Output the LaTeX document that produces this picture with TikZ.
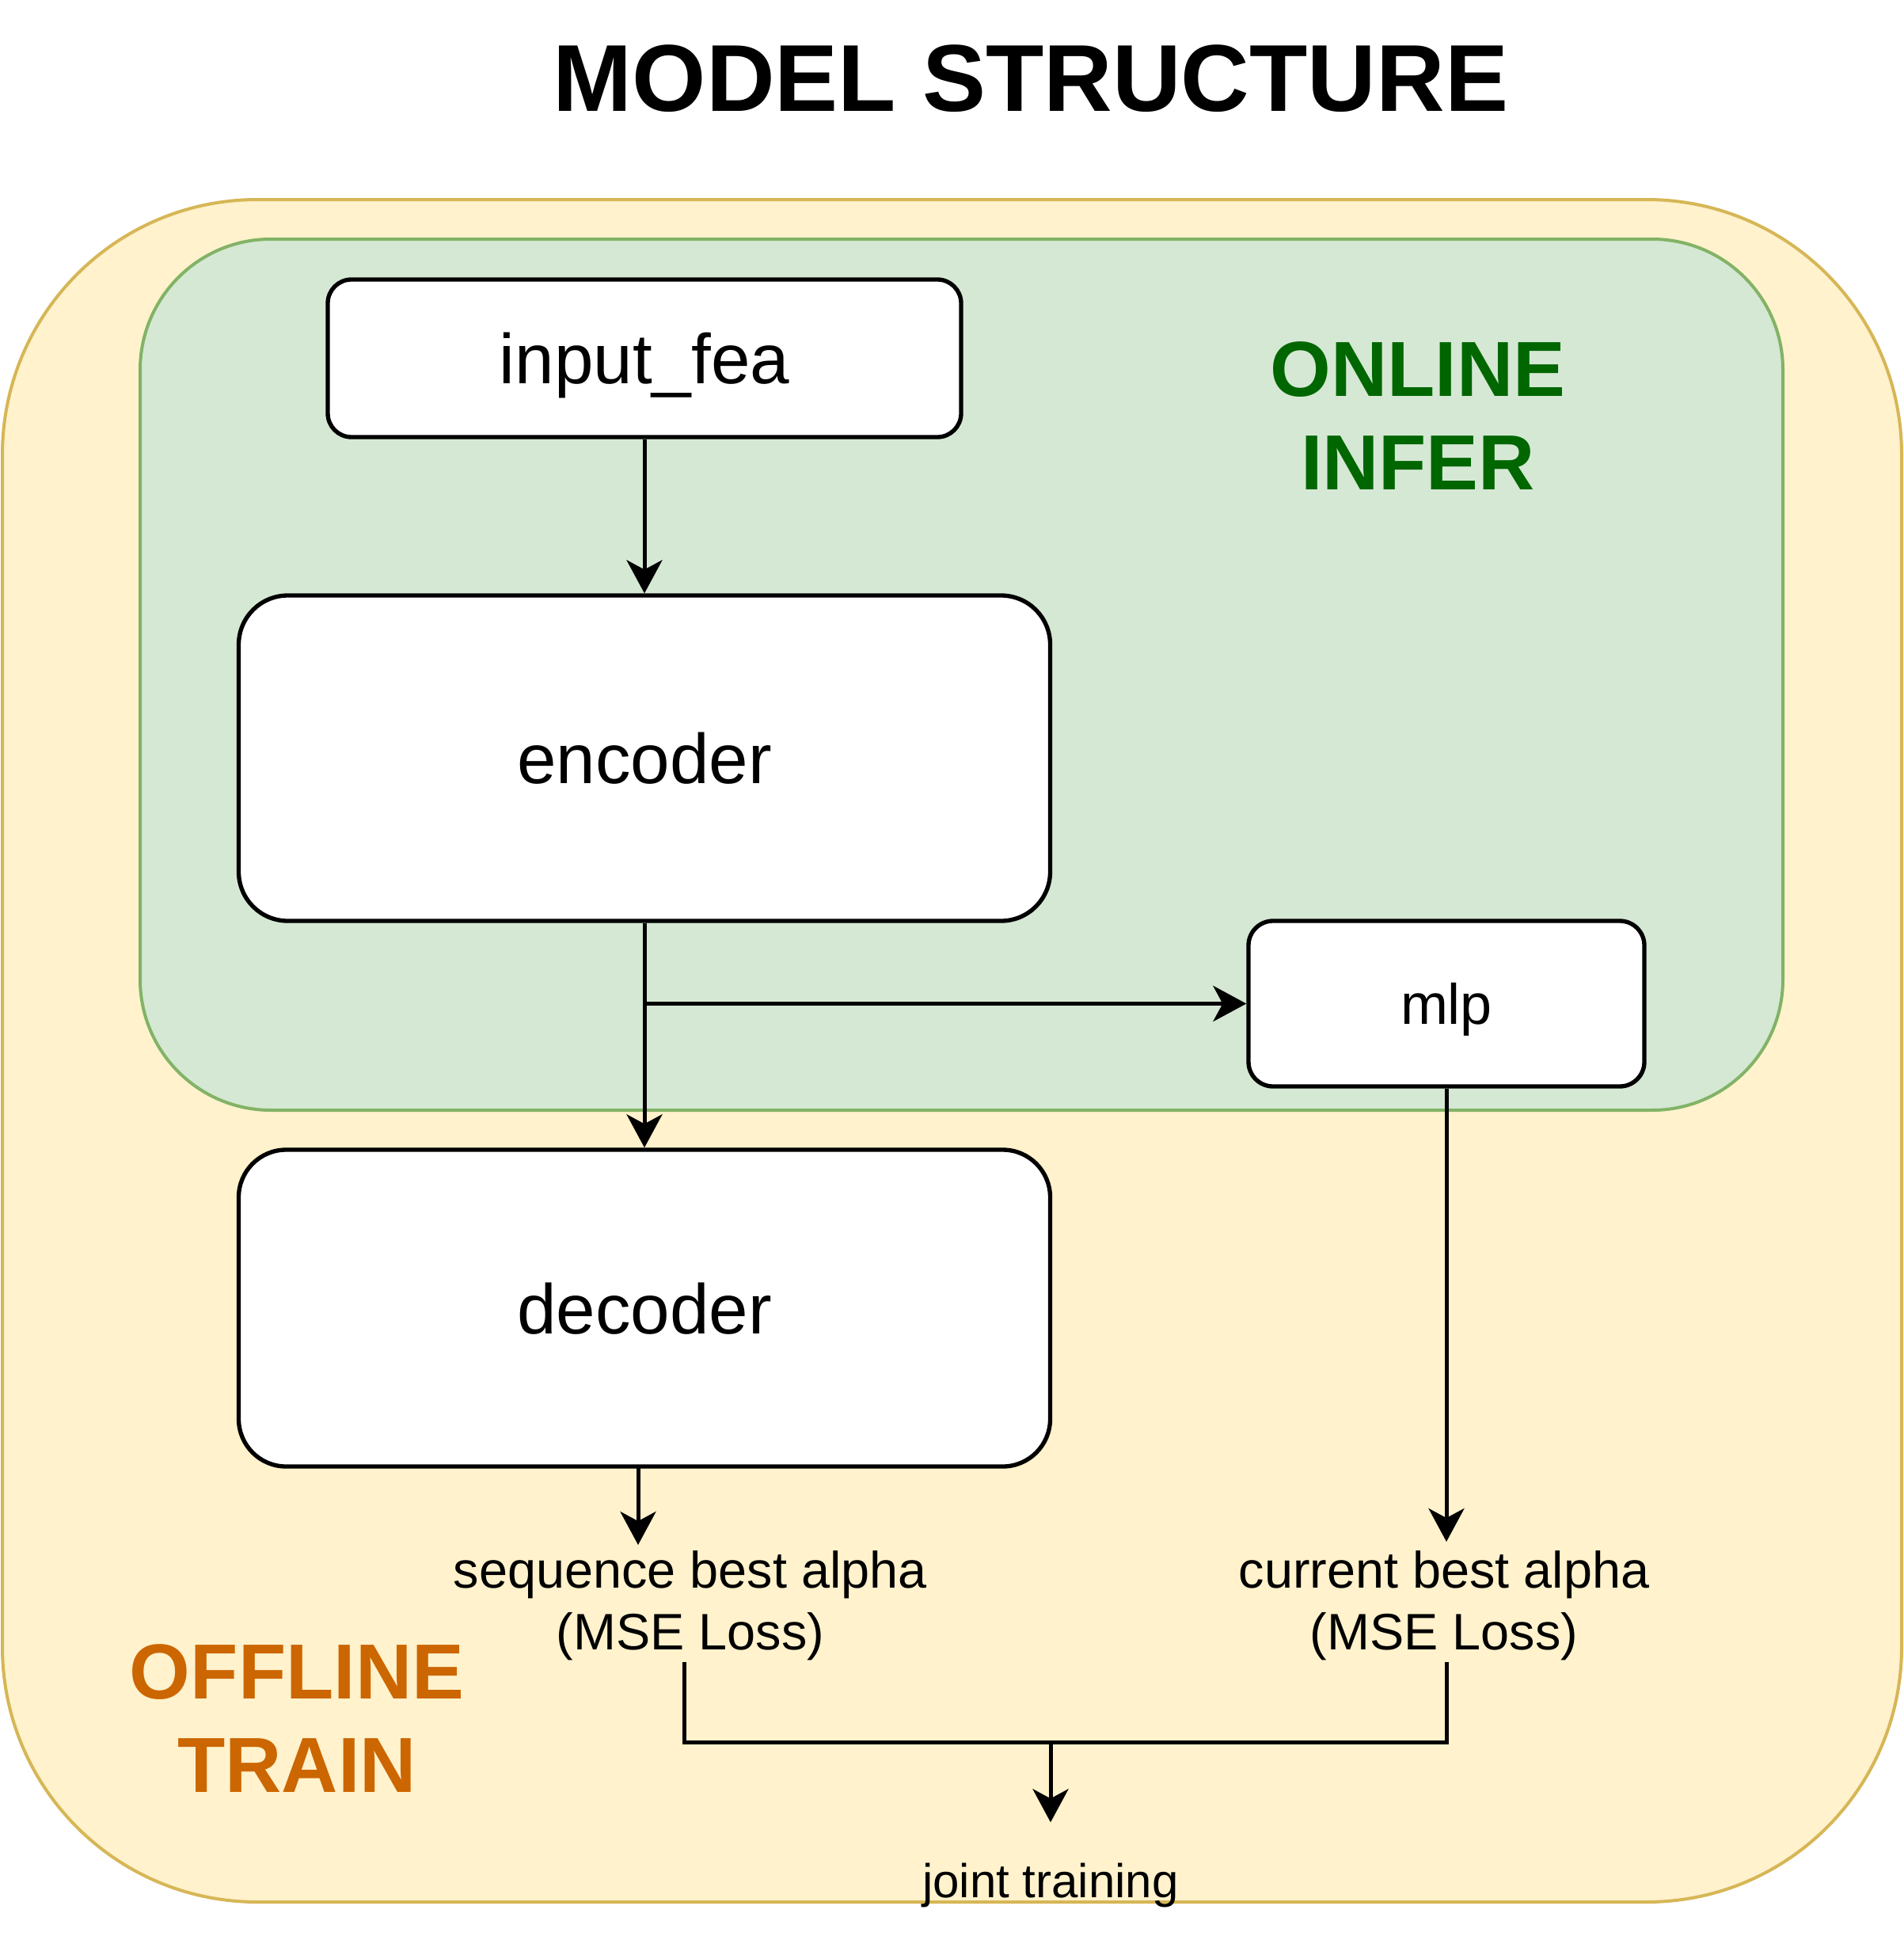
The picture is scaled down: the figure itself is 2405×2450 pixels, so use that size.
\documentclass[tikz,border=0pt]{standalone}
\usepackage{fontspec}
\setmainfont{Liberation Sans}
\usetikzlibrary{arrows.meta}
\definecolor{ofill}{HTML}{FFF2CC}
\definecolor{ostroke}{HTML}{D6B656}
\definecolor{gfill}{HTML}{D5E8D4}
\definecolor{gstroke}{HTML}{82B366}
\definecolor{ontext}{HTML}{006600}
\definecolor{offtext}{HTML}{CC6600}
\begin{document}
\begin{tikzpicture}[x=0.3pt,y=-0.3pt,
  container/.style={line width=1.2pt, inner sep=0pt},
  box/.style={draw=black, fill=white, line width=1.6pt, inner sep=0pt, text depth=0pt,
    font=\fontsize{26.7}{32}\selectfont},
  conn/.style={draw=black, line width=1.5pt},
  arr/.style={conn, -{Stealth[length=12.6pt,width=13.5pt,inset=3.6pt]}},
  lbl/.style={align=center, inner sep=1.5pt, font=\fontsize{19.44}{23.3}\selectfont},
  bigtitle/.style={inner sep=0pt, font=\fontsize{36}{43}\selectfont\bfseries},
  zone/.style={align=center, inner sep=0pt, font=\fontsize{29.6}{35.4}\selectfont\bfseries}
]
\useasboundingbox (0,0) rectangle (2405,2450);

% containers
\node[container, draw=ostroke, fill=ofill, rounded corners=96.6pt,
  minimum width=719.7pt, minimum height=645pt] (offline) at (1202.5,1327) {};
\node[container, draw=gstroke, fill=gfill, rounded corners=49.5pt,
  minimum width=622.5pt, minimum height=330pt] (online) at (1214.5,852) {};

% title and zone labels
\node[bigtitle] (title) at (1302,99) {MODEL STRUCTURE};
\node[zone, text=ontext] (onlbl) at (1791,525) {ONLINE\\INFER};
\node[zone, text=offtext] (offlbl) at (375,2170) {OFFLINE\\TRAIN};

% boxes
\node[box, rounded corners=9pt, minimum width=240pt, minimum height=59.7pt]
  (inp) at (814,452.5) {input\_fea};
\node[box, rounded corners=18.6pt, minimum width=307.5pt, minimum height=123.3pt]
  (enc) at (814,957.5) {encoder};
\node[box, rounded corners=18pt, minimum width=307.5pt, minimum height=120pt]
  (dec) at (814,1652) {decoder};
\node[box, rounded corners=9.3pt, minimum width=150pt, minimum height=62.7pt,
  font=\fontsize{21.6}{26}\selectfont]
  (mlp) at (1827,1267.5) {mlp};

% labels
\node[lbl] (seq) at (872,2028) {sequence best alpha\\(MSE Loss)};
\node[lbl] (cur) at (1824,2028) {current best alpha\\(MSE Loss)};
\node[inner sep=0pt, minimum height=47.4pt, font=\fontsize{18}{21.6}\selectfont]
  (joint) at (1327,2381) {joint training};

% helper coordinates
\coordinate (decout) at (806,1852);
\coordinate (seqout) at (864,2099);
\coordinate (curout) at (1827,2099);
\coordinate (merge) at (1327,2200);

% connectors
\draw[arr] (inp.south) -- (inp.south |- enc.north);
\draw[arr] (enc.south) -- (enc.south |- dec.north);
\draw[arr] (enc.south |- mlp.west) -- (mlp.west);
\draw[arr] (mlp.south) -- (1827,1947);
\draw[arr] (decout) -- (806,1951);
\draw[conn] (seqout) |- (merge) -| (curout);
\draw[arr] (merge) -- (merge |- joint.north);
\end{tikzpicture}
\end{document}
